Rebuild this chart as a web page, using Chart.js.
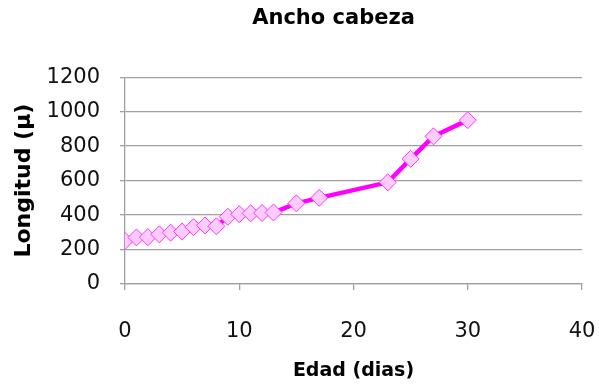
<!DOCTYPE html>
<html>
<head>
<meta charset="utf-8">
<script src="https://cdn.jsdelivr.net/npm/chart.js@4"></script>
<style>
  body { margin:0; background:#fff; }
</style>
</head>
<body>
<canvas id="chart" width="599" height="387"></canvas>
<script>
// data
const dias = [0, 1, 2, 3, 4, 5, 6, 7, 8, 9, 10, 11, 12, 13, 15, 17, 23, 25, 27, 30];
const longitud = [250, 270, 272, 288, 298, 305, 330, 340, 335, 390, 405, 410, 412, 415, 468, 500, 590, 726, 857, 951];
const xTicks = [0, 10, 20, 30, 40];
const yTicks = [0, 200, 400, 600, 800, 1000, 1200];

const FONT = 'DejaVu Sans';
const gridGray = '#a0a0a0';

// the reference title sits over the plot, not over the whole canvas
const shiftTitle = {
  id: 'shiftTitle',
  afterLayout(chart) {
    if (chart.titleBlock) chart.titleBlock.left = 85;
  }
};

new Chart(document.getElementById('chart'), {
  type: 'scatter',
  data: {
    datasets: [{
      data: dias.map((d, i) => ({x: d, y: longitud[i]})),
      showLine: true,
      borderColor: '#ff00ff',
      borderWidth: 4.5,
      pointStyle: 'rectRot',
      pointRadius: 8.5,
      pointHoverRadius: 8.5,
      pointBackgroundColor: '#ffccff',
      pointBorderColor: '#ff33ff',
      pointBorderWidth: 1
    }]
  },
  plugins: [shiftTitle],
  options: {
    responsive: false,
    animation: false,
    layout: {padding: {left: 0, right: 17, top: 0, bottom: 0}},
    plugins: {
      legend: {display: false},
      tooltip: {enabled: false},
      title: {
        display: true,
        text: 'Ancho cabeza',
        color: '#000',
        font: {family: FONT, size: 21, weight: 'bold', lineHeight: 1.2},
        padding: {top: 6, bottom: 46}
      }
    },
    scales: {
      x: {
        type: 'linear',
        min: 0, max: 40,
        afterBuildTicks: s => { s.ticks = xTicks.map(v => ({value: v})); },
        afterFit: s => { s.height = 103; s.paddingLeft = 0; s.paddingRight = 0; },
        grid: {drawOnChartArea: false, drawTicks: true, tickLength: 6, color: gridGray, lineWidth: 1.3},
        border: {display: true, color: gridGray, width: 1.3},
        ticks: {color: '#111', font: {family: FONT, size: 21}, padding: 29, maxRotation: 0,
                callback: v => String(v)},
        title: {
          display: true,
          text: 'Edad (dias)',
          color: '#000',
          font: {family: FONT, size: 19, weight: 'bold', lineHeight: 1.2},
          padding: {top: 0, bottom: 5}
        }
      },
      y: {
        type: 'linear',
        min: 0, max: 1200,
        afterBuildTicks: s => { s.ticks = yTicks.map(v => ({value: v})); },
        afterFit: s => { s.width = 125; },
        grid: {drawTicks: true, tickLength: 5, color: gridGray, lineWidth: 1.3},
        border: {display: true, color: gridGray, width: 1.3},
        ticks: {color: '#111', font: {family: FONT, size: 21}, padding: 20,
                callback: v => String(v)},
        title: {
          display: true,
          text: 'Longitud (µ)',
          color: '#000',
          font: {family: FONT, size: 22, weight: 'bold', lineHeight: 1.2},
          padding: {top: 11, bottom: 0}
        }
      }
    }
  }
});
</script>
</body>
</html>
